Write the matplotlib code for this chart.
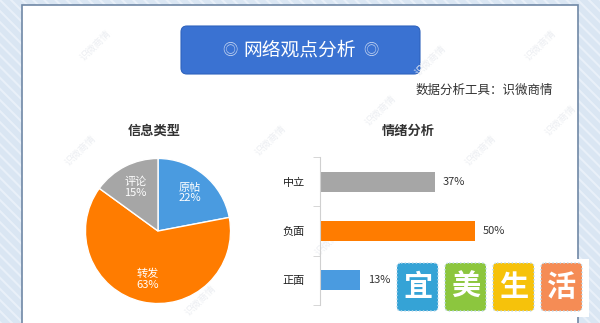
import matplotlib
matplotlib.use("Agg")
import matplotlib.pyplot as plt
from matplotlib.patches import Rectangle, FancyBboxPatch
import numpy as np

plt.rcParams['font.family'] = ['Noto Sans CJK SC', 'DejaVu Sans']

# data
pie_labels = ["原帖", "转发", "评论"]
pie_values = [22, 63, 15]
pie_colors = ["#4a9be0", "#ff7c00", "#a6a6a6"]

bar_labels = ["正面", "负面", "中立"]
bar_values = [13, 50, 37]
bar_colors = ["#4a9be0", "#ff7c00", "#a6a6a6"]

sticker_chars = ["宜", "美", "生", "活"]
sticker_colors = ["#35a3d6", "#8cc63e", "#f6c20b", "#f58c55"]

W, H = 600, 323
fig = plt.figure(figsize=(W / 100, H / 100), dpi=100)

def frac(x0, y0, x1, y1):
    # pixel box (top-left origin) -> figure fraction rect
    return [x0 / W, 1 - y1 / H, (x1 - x0) / W, (y1 - y0) / H]

# background layer in pixel coordinates
bg = fig.add_axes([0, 0, 1, 1], zorder=0)
bg.set_xlim(0, W)
bg.set_ylim(H, 0)
bg.axis("off")
plt.rcParams['hatch.linewidth'] = 1.5
bg.add_patch(Rectangle((0, 0), W, H, facecolor="#dae6f3", edgecolor="#e9f0f9",
                       hatch="\\\\\\", lw=0))
bg.add_patch(Rectangle((22, 5), 556, 330, facecolor="white", edgecolor="#7088a6", lw=1.2))

# faint watermarks
for wx, wy in [(95, 45), (270, 140), (430, 60), (540, 45), (120, 230), (330, 240),
               (200, 300), (480, 150), (80, 150), (380, 110), (560, 120)]:
    bg.text(wx, wy, "识微商情", fontsize=7, color="#eceef2", rotation=45,
            ha="center", va="center")

# title banner
bg.add_patch(FancyBboxPatch((181, 26), 239, 48, boxstyle="round,pad=0,rounding_size=6",
                            facecolor="#3a72d2", edgecolor="#2f63bd", lw=0.8))
bg.text(300, 50, "网络观点分析", fontsize=13.5, color="white", ha="center", va="center")
bg.text(230, 51, "◎", fontsize=11, color="#c9d8f2", ha="center", va="center")
bg.text(371, 51, "◎", fontsize=11, color="#c9d8f2", ha="center", va="center")
bg.text(553, 90, "数据分析工具：识微商情", fontsize=9, color="#333333", ha="right", va="center")

bg.text(154, 131, "信息类型", fontsize=9.5, fontweight="bold", color="#333333",
        ha="center", va="center")
bg.text(408, 131, "情绪分析", fontsize=9.5, fontweight="bold", color="#333333",
        ha="center", va="center")

# pie chart
ax1 = fig.add_axes(frac(84, 157, 232, 305), zorder=2)
ax1.set_facecolor("none")
wedges, _ = ax1.pie(pie_values, colors=pie_colors, startangle=90, counterclock=False,
                    radius=1.0, wedgeprops=dict(edgecolor="white", linewidth=1.0))
ax1.set_xlim(-1.02, 1.02)
ax1.set_ylim(-1.02, 1.02)
ax1.set_aspect("equal")
for w, lab, v in zip(wedges, pie_labels, pie_values):
    ang = np.deg2rad((w.theta1 + w.theta2) / 2)
    r = 0.68
    ax1.text(r * np.cos(ang), r * np.sin(ang), f"{lab}\n{v}%", color="white",
             fontsize=8, ha="center", va="center", linespacing=1.1)

# bar chart
ax2 = fig.add_axes(frac(320, 157, 506, 305), zorder=2)
ax2.set_facecolor("none")
ypos = np.arange(len(bar_labels))
ax2.barh(ypos, bar_values, height=0.41, color=bar_colors)
ax2.set_xlim(0, 60)
ax2.set_ylim(-0.5, 2.5)
ax2.set_yticks(ypos)
ax2.set_yticklabels(bar_labels, fontsize=8, color="#222222")
ax2.set_yticks([-0.5, 0.5, 1.5, 2.5], minor=True)
ax2.tick_params(axis="y", which="major", length=0, pad=11)
ax2.tick_params(axis="y", which="minor", length=5, color="#d0d0d0")
ax2.set_xticks([])
for s in ["top", "right", "bottom"]:
    ax2.spines[s].set_visible(False)
ax2.spines["left"].set_color("#d0d0d0")
for y, v in zip(ypos, bar_values):
    ax2.text(v + 2.5, y, f"{v}%", fontsize=8, color="#333333", va="center", ha="left")

# sticker overlay
fg = fig.add_axes([0, 0, 1, 1], zorder=5)
fg.set_xlim(0, W)
fg.set_ylim(H, 0)
fg.axis("off")
fg.patch.set_visible(False)
fg.add_patch(Rectangle((393, 259), 196, 58, facecolor="white", edgecolor="none"))
x0 = 397
for ch, c in zip(sticker_chars, sticker_colors):
    fg.add_patch(FancyBboxPatch((x0, 263), 41, 48, boxstyle="round,pad=0,rounding_size=4",
                                facecolor=c, edgecolor="#bcd9ea", lw=1.0, linestyle=":"))
    fg.text(x0 + 20.5, 287, ch, fontsize=21, color="white", fontweight="bold",
            ha="center", va="center")
    x0 += 48

fig.savefig("out.png", dpi=100)
